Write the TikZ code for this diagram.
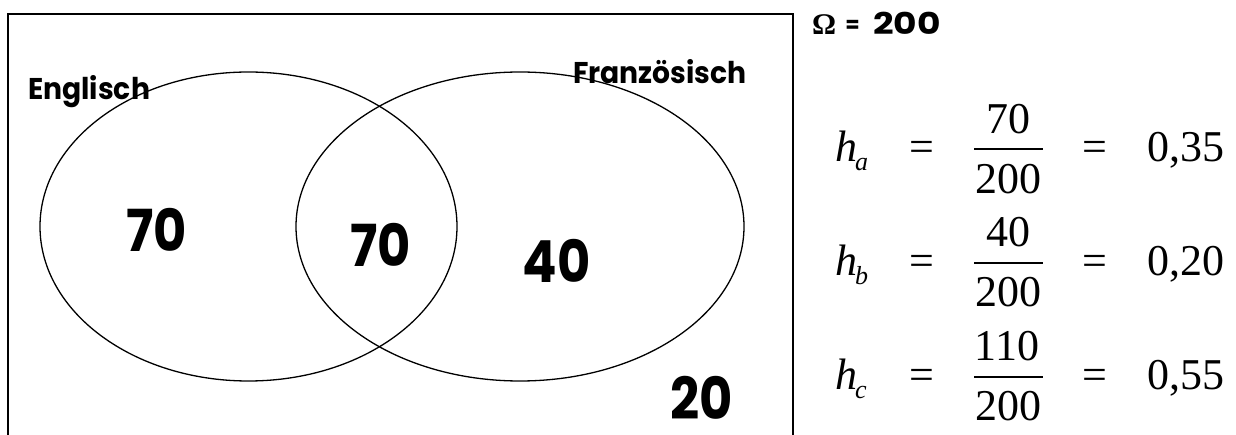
\documentclass[tikz,border=0pt]{standalone}
\usepackage{fontspec}
\setmainfont{Poppins}
\newfontfamily\numf{Poppins}[FakeStretch=0.88]
\newfontfamily\lblf{Poppins}[FakeStretch=0.94]
\newfontfamily\widef{Poppins}[FakeStretch=1.2]
\newfontfamily\timesf{Liberation Serif}
\usetikzlibrary{shapes.geometric}
\begin{document}
\begin{tikzpicture}[x=1pt,y=-1pt,
  lbl/.style={inner sep=0pt, anchor=base west, font=\lblf\bfseries\fontsize{30}{30}\selectfont},
  bignum/.style={inner sep=0pt, anchor=south, font=\numf\bfseries\fontsize{58}{58}\selectfont},
  setbox/.style={draw, ellipse, line width=1.3pt, inner sep=0pt, minimum height=309pt},
  mth/.style={inner sep=0pt, anchor=base, font=\timesf\fontsize{44}{44}\selectfont},
  msub/.style={inner sep=0pt, anchor=base west, font=\timesf\itshape\fontsize{26}{26}\selectfont},
  fracbar/.style={line width=1.8pt}]
\useasboundingbox (0,0) rectangle (1236,435);
% frame
\draw[line width=1.8pt] (8,435) -- (8,14) -- (793,14) -- (793,435);
% sets
\node[setbox, minimum width=417pt] (eng) at (248.5,226.5) {};
\node[setbox, minimum width=448pt] (fra) at (520,226.5) {};
% labels
\node[lbl] (englisch) at (28,100) {Englisch};
\node[lbl] (franz) at (573,84) {Französisch};
% numbers
\node[bignum] (n1) at (156.5,252) {70};
\node[bignum] (n2) at (380.5,267) {70};
\node[bignum] (n3) at (556.5,283) {40};
\node[bignum] (n4) at (701.5,420) {20};
% Omega line
\node[inner sep=0pt, anchor=base west, font=\timesf\bfseries\fontsize{30}{30}\selectfont] (omega) at (812,35) {Ω};
\node[inner sep=0pt, anchor=base, font=\lblf\bfseries\fontsize{22}{22}\selectfont] (oeq) at (852.5,33) {=};
\node[inner sep=0pt, anchor=base west, font=\widef\bfseries\fontsize{30}{30}\selectfont] (otot) at (873,35) {200};
% row a
\node[mth, anchor=base west] (ha) at (835,161.7) {\itshape h};
\node[msub] (sa) at (855,171) {a};
\node[mth] (eqa1) at (921.5,161.7) {=};
\node[mth] (numa) at (1008,133.3) {70};
\node[mth] (dena) at (1008.5,193.3) {200};
\coordinate (bla) at (974,149.3);
\coordinate (bra) at (1043,149.3);
\draw[fracbar] (bla) -- (bra);
\node[mth] (eqa2) at (1095,161.7) {=};
\node[mth, anchor=base west] (vala) at (1147,161.7) {0,35};
% row b
\node[mth, anchor=base west] (hb) at (835,275.4) {\itshape h};
\node[msub] (sb) at (855,284.7) {b};
\node[mth] (eqb1) at (921.5,275.4) {=};
\node[mth] (numb) at (1008,247) {40};
\node[mth] (denb) at (1008.5,307) {200};
\coordinate (blb) at (974,263);
\coordinate (brb) at (1043,263);
\draw[fracbar] (blb) -- (brb);
\node[mth] (eqb2) at (1095,275.4) {=};
\node[mth, anchor=base west] (valb) at (1147,275.4) {0,20};
% row c
\node[mth, anchor=base west] (hc) at (835,389.1) {\itshape h};
\node[msub] (sc) at (855,398.4) {c};
\node[mth] (eqc1) at (921.5,389.1) {=};
\node[mth] (numc) at (1007,360.7) {110};
\node[mth] (denc) at (1008.5,420.7) {200};
\coordinate (blc) at (974,376.7);
\coordinate (brc) at (1043,376.7);
\draw[fracbar] (blc) -- (brc);
\node[mth] (eqc2) at (1095,389.1) {=};
\node[mth, anchor=base west] (valc) at (1147,389.1) {0,55};
\end{tikzpicture}
\end{document}
